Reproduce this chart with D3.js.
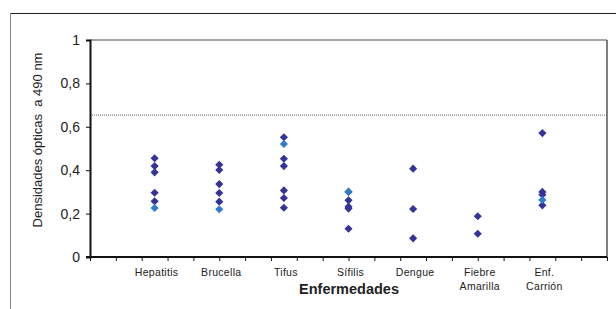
<!DOCTYPE html>
<html>
<head>
<meta charset="utf-8">
<script src="https://cdn.jsdelivr.net/npm/d3@7"></script>
<style>
  body { margin: 0; background: #fff; }
  svg { display: block; font-family: "Liberation Sans", Arial, sans-serif; }
</style>
</head>
<body>
<svg width="616" height="309"></svg>
<script>
var categories = ["Hepatitis", "Brucella", "Tifus", "Sífilis", "Dengue", "Fiebre Amarilla", "Enf. Carrión"];
// dark points per disease
var darkValues = [
  [0.455, 0.419, 0.390, 0.296, 0.257],
  [0.425, 0.401, 0.336, 0.295, 0.255],
  [0.552, 0.453, 0.419, 0.307, 0.272, 0.227],
  [0.300, 0.261, 0.232, 0.223, 0.130],
  [0.407, 0.221, 0.086],
  [0.188, 0.107],
  [0.571, 0.300, 0.287, 0.238]
];
// light blue points
var lightValues = [0.226, 0.220, 0.521, 0.301, null, null, 0.263];
var cutoff = 0.654;
var yTicks = [0, 0.2, 0.4, 0.6, 0.8, 1];

var svg = d3.select("svg");
var plotL = 90, plotR = 607, plotT = 40, plotB = 257;

var x = d3.scaleLinear().domain([0, 8]).range([plotL, plotR]);
var y = d3.scaleLinear().domain([0, 1]).range([plotB, plotT]);

// outer frame
svg.append("line").attr("x1", 10).attr("x2", 616).attr("y1", 13.5).attr("y2", 13.5)
  .attr("stroke", "#222").attr("stroke-width", 1);
svg.append("line").attr("x1", 10.5).attr("x2", 10.5).attr("y1", 13).attr("y2", 309)
  .attr("stroke", "#888").attr("stroke-width", 1);

// plot border top/right
svg.append("line").attr("x1", plotL).attr("x2", plotR).attr("y1", plotT).attr("y2", plotT)
  .attr("stroke", "#888").attr("stroke-width", 1.5);
svg.append("line").attr("x1", plotR).attr("x2", plotR).attr("y1", plotT).attr("y2", plotB)
  .attr("stroke", "#555").attr("stroke-width", 1.5);

// cutoff line
svg.append("line").attr("x1", plotL).attr("x2", plotR)
  .attr("y1", y(cutoff)).attr("y2", y(cutoff))
  .attr("stroke", "#666").attr("stroke-width", 1).attr("stroke-dasharray", "1,1");

// y axis
var yAxis = d3.axisLeft(y).tickValues(yTicks).tickSize(4).tickPadding(6)
  .tickFormat(function(d) { return d3.format("")(d).replace(".", ","); });
var gy = svg.append("g").attr("transform", "translate(" + plotL + ",0)").call(yAxis);
gy.select(".domain").attr("stroke", "#111").attr("stroke-width", 2);
gy.selectAll(".tick line").attr("stroke", "#111");
gy.selectAll(".tick text").attr("font-size", 14).attr("fill", "#222")
  .attr("font-family", "Liberation Sans, Arial, sans-serif");

// x axis
var xAxis = d3.axisBottom(x).tickValues(d3.range(0, 8.01, 0.4)).tickSize(4).tickFormat("");
var gx = svg.append("g").attr("transform", "translate(0," + plotB + ")").call(xAxis);
gx.select(".domain").attr("stroke", "#111").attr("stroke-width", 2).attr("d", "M86,0H" + plotR);
gx.selectAll(".tick line").attr("stroke", "#111");

// category labels
categories.forEach(function(c, i) {
  var words = c === "Fiebre Amarilla" ? ["Fiebre", "Amarilla"] :
              c === "Enf. Carrión" ? ["Enf.", "Carrión"] : [c];
  var t = svg.append("text").attr("x", x(i + 1) + 2).attr("y", 276)
    .attr("text-anchor", "middle").attr("font-size", 10.5).attr("fill", "#222")
    .attr("letter-spacing", 0.3);
  words.forEach(function(w, k) {
    t.append("tspan").attr("x", x(i + 1) + 2).attr("dy", k === 0 ? 0 : 14).text(w);
  });
});

// axis titles
svg.append("text").attr("x", 349).attr("y", 294).attr("text-anchor", "middle")
  .attr("font-size", 14.5).attr("font-weight", "bold").attr("fill", "#222").text("Enfermedades");
svg.append("text").attr("transform", "translate(42,140) rotate(-90)")
  .attr("text-anchor", "middle").attr("font-size", 13).attr("fill", "#222")
  .attr("xml:space", "preserve")
  .text("Densidades ópticas  a 490 nm");

// points: square diamonds
var diamond = d3.symbol().type(d3.symbolDiamond2).size(42);
var darkPts = [];
darkValues.forEach(function(vals, i) {
  vals.forEach(function(v) { darkPts.push({ c: i + 1, v: v }); });
});
svg.selectAll("path.dark").data(darkPts).enter().append("path")
  .attr("class", "dark")
  .attr("d", diamond)
  .attr("transform", function(d) { return "translate(" + x(d.c) + "," + y(d.v) + ")"; })
  .attr("fill", "#333399");

var lightPts = [];
lightValues.forEach(function(v, i) { if (v !== null) lightPts.push({ c: i + 1, v: v }); });
svg.selectAll("path.light").data(lightPts).enter().append("path")
  .attr("class", "light")
  .attr("d", diamond)
  .attr("transform", function(d) { return "translate(" + x(d.c) + "," + y(d.v) + ")"; })
  .attr("fill", "#2f7cc8");
</script>
</body>
</html>
